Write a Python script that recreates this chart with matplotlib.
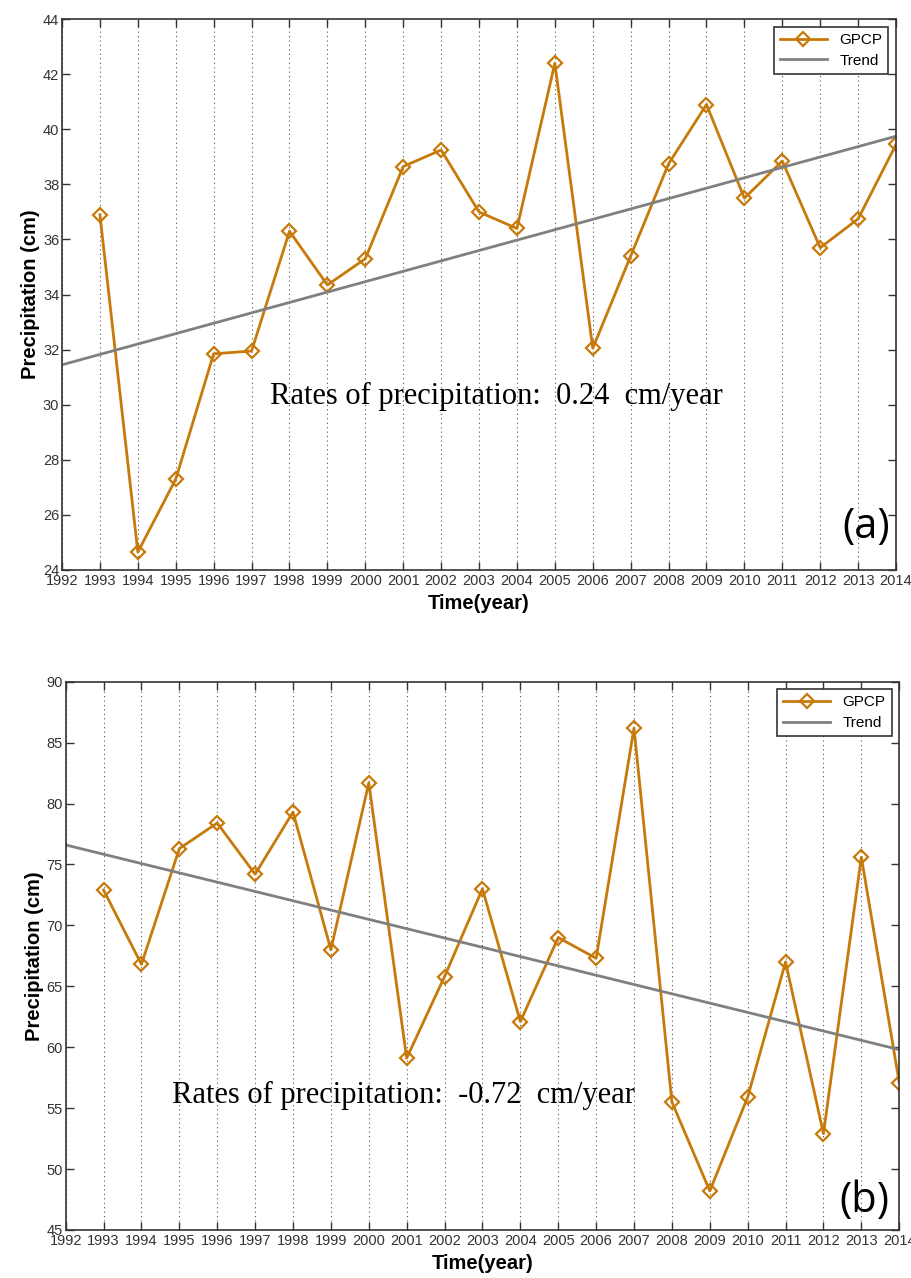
from matplotlib import pyplot as plt
import numpy as np

years = np.arange(1993, 2015)

# panel (a)
gpcp_a = [36.9, 24.65, 27.3, 31.85, 31.95, 36.3, 34.35, 35.3, 38.65, 39.25, 37.0,
          36.4, 42.4, 32.05, 35.4, 38.75, 40.9, 37.5, 38.85, 35.7, 36.75, 39.45]
trend_years = [1992, 2014]
trend_a = [31.45, 39.75]

# panel (b)
gpcp_b = [72.9, 66.8, 76.3, 78.4, 74.2, 79.3, 68.0, 81.7, 59.1, 65.8, 73.0,
          62.1, 69.0, 67.3, 86.2, 55.5, 48.2, 55.9, 67.0, 52.9, 75.6, 57.1]
trend_b = [76.6, 59.8]

ORANGE = '#C77A0A'
GREY = '#808080'

plt.rcParams['font.family'] = ['Liberation Sans', 'DejaVu Sans']

fig = plt.figure(figsize=(9.12, 12.78), dpi=100)
ax1 = fig.add_axes([0.068, 0.554, 0.9145, 0.431])
ax2 = fig.add_axes([0.072, 0.0376, 0.914, 0.429])

panels = [
    (ax1, gpcp_a, trend_a, (24, 44), np.arange(24, 45, 2), '0.24', (1997.49, 30.03), '(a)', (2013.2, 25.55)),
    (ax2, gpcp_b, trend_b, (45, 90), np.arange(45, 91, 5), '-0.72', (1994.8, 55.4), '(b)', (2013.08, 47.4)),
]

for ax, gpcp, trend, ylim, yticks, rate, rate_pos, tag, tag_pos in panels:
    ax.plot(years, gpcp, color=ORANGE, lw=2, marker='D', markersize=7.5,
            markerfacecolor='none', markeredgecolor=ORANGE, markeredgewidth=1.6, label='GPCP')
    ax.plot(trend_years, trend, color=GREY, lw=2, label='Trend')
    ax.set_xlim(1992, 2014)
    ax.set_ylim(*ylim)
    ax.set_xticks(np.arange(1992, 2015))
    ax.set_yticks(yticks)
    ax.tick_params(direction='in', length=6, width=1, top=True, right=True,
                   labelsize=10.5, colors='#333333', pad=2)
    ax.tick_params(axis='x', pad=3)
    ax.grid(axis='x', linestyle=(0, (1, 3)), color='#555555', lw=0.8)
    for s in ax.spines.values():
        s.set_linewidth(1.2)
        s.set_color('#333333')
    ax.set_xlabel('Time(year)', fontsize=14.5, fontweight='bold', labelpad=4)
    ax.set_ylabel('Precipitation (cm)', fontsize=14.5, fontweight='bold', labelpad=2)
    ax.text(rate_pos[0], rate_pos[1], 'Rates of precipitation:  %s  cm/year' % rate,
            family='Liberation Serif', fontsize=22, va='baseline', ha='left')
    ax.text(tag_pos[0], tag_pos[1], tag, family='Open Sans', fontsize=30,
            ha='center', va='center')
    leg = ax.legend(loc='upper right', fontsize=11, fancybox=False, framealpha=1,
                    edgecolor='#333333', handlelength=3.1, borderpad=0.4,
                    labelspacing=0.45, borderaxespad=0.5)
    leg.get_frame().set_linewidth(1.2)

fig.savefig('out.png', dpi=100)
